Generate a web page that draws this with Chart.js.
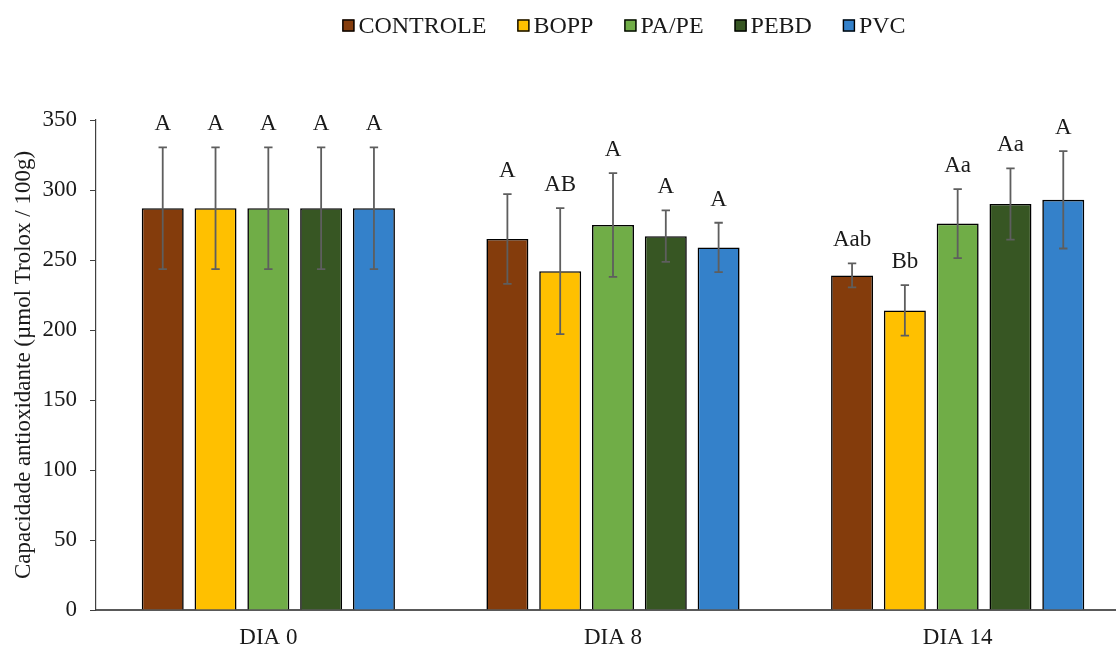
<!DOCTYPE html>
<html>
<head>
<meta charset="utf-8">
<script src="https://cdn.jsdelivr.net/npm/chart.js@4/dist/chart.umd.min.js"></script>
<style>
  html, body { margin: 0; padding: 0; background: #fff; overflow: hidden; }
  #wrap { width: 1116px; height: 648px; overflow: hidden; }
  canvas { display: block; }
</style>
</head>
<body>
<div id="wrap"><canvas id="c" width="1130" height="648"></canvas></div>
<script>
// ---- data ----
const categories = ['DIA 0', 'DIA 8', 'DIA 14'];
const seriesNames = ['CONTROLE', 'BOPP', 'PA/PE', 'PEBD', 'PVC'];
const seriesColors = ['#843C0C', '#FFC000', '#70AD47', '#375623', '#3481CA'];

const controleValues = [287, 265, 239];
const boppValues     = [287, 242, 214];
const papeValues     = [287, 275, 276];
const pebdValues     = [287, 267, 290];
const pvcValues      = [287, 259, 293];

const controleErrors = [43.5, 32, 8.6];
const boppErrors     = [43.5, 45, 18];
const papeErrors     = [43.5, 37, 24.6];
const pebdErrors     = [43.5, 18.4, 25.5];
const pvcErrors      = [43.5, 17.6, 34.8];

const controleLetters = ['A', 'A', 'Aab'];
const boppLetters     = ['A', 'AB', 'Bb'];
const papeLetters     = ['A', 'A', 'Aa'];
const pebdLetters     = ['A', 'A', 'Aa'];
const pvcLetters      = ['A', 'A', 'A'];

const yTicks = [0, 50, 100, 150, 200, 250, 300, 350];
const yTitle = 'Capacidade antioxidante (µmol Trolox / 100g)';

const allValues  = [controleValues, boppValues, papeValues, pebdValues, pvcValues];
const allErrors  = [controleErrors, boppErrors, papeErrors, pebdErrors, pvcErrors];
const allLetters = [controleLetters, boppLetters, papeLetters, pebdLetters, pvcLetters];

const FONT = "'Liberation Serif', 'Times New Roman', serif";
const TEXT = '#1a1a1a';

const datasets = seriesNames.map((name, i) => ({
  label: name,
  data: allValues[i],
  errors: allErrors[i],
  letters: allLetters[i],
  backgroundColor: seriesColors[i],
  borderColor: '#000',
  borderWidth: 1.6,
  borderSkipped: 'start',
  categoryPercentage: 0.766,
  barPercentage: 0.795
}));

const errorBarPlugin = {
  id: 'errorBars',
  afterDatasetsDraw(chart) {
    const ctx = chart.ctx;
    const ys = chart.scales.y;
    chart.data.datasets.forEach((ds, di) => {
      const meta = chart.getDatasetMeta(di);
      meta.data.forEach((bar, j) => {
        const v = ds.data[j], e = ds.errors[j];
        const yTop = ys.getPixelForValue(v + e);
        const yBot = ys.getPixelForValue(v - e);
        const x = bar.x;
        ctx.save();
        ctx.strokeStyle = '#5e5e5e';
        ctx.lineWidth = 1.8;
        ctx.beginPath();
        ctx.moveTo(x, yTop); ctx.lineTo(x, yBot);
        ctx.moveTo(x - 4.2, yTop); ctx.lineTo(x + 4.2, yTop);
        ctx.moveTo(x - 4.2, yBot); ctx.lineTo(x + 4.2, yBot);
        ctx.stroke();
        ctx.fillStyle = TEXT;
        ctx.font = '23px ' + FONT;
        ctx.textAlign = 'center';
        ctx.textBaseline = 'middle';
        ctx.fillText(ds.letters[j], x, yTop - 23);
        ctx.restore();
      });
    });
  }
};

const legendPlugin = {
  id: 'customLegend',
  afterDraw(chart) {
    const ctx = chart.ctx;
    ctx.save();
    ctx.font = '24px ' + FONT;
    const box = 12, gapText = 4, gapItem = 31;
    const widths = chart.data.datasets.map(ds => ctx.measureText(ds.label).width);
    const total = widths.reduce((a, w) => a + box + gapText + w, 0) + gapItem * (widths.length - 1);
    let x = 624 - total / 2;
    const yc = 25.5;
    chart.data.datasets.forEach((ds, i) => {
      ctx.fillStyle = ds.backgroundColor;
      ctx.fillRect(x, yc - 6, box, box);
      ctx.strokeStyle = '#000';
      ctx.lineWidth = 1.4;
      ctx.strokeRect(x + 0.5, yc - 5.5, box - 1, box - 1);
      ctx.fillStyle = TEXT;
      ctx.textAlign = 'left';
      ctx.textBaseline = 'middle';
      ctx.fillText(ds.label, x + box + gapText, yc + 1);
      x += box + gapText + widths[i] + gapItem;
    });
    ctx.restore();
  }
};

new Chart(document.getElementById('c'), {
  type: 'bar',
  data: { labels: categories, datasets },
  options: {
    responsive: false,
    animation: false,
    devicePixelRatio: 1,
    layout: { padding: { top: 120, right: 0, bottom: 0, left: 0 } },
    plugins: {
      legend: { display: false },
      tooltip: { enabled: false }
    },
    scales: {
      x: {
        grid: { display: false, drawTicks: false },
        border: { display: true, color: '#595959', width: 2 },
        ticks: { color: TEXT, font: { family: FONT, size: 23 }, padding: 14 },
        afterFit(scale) { scale.height = 38; }
      },
      y: {
        min: 0,
        max: 350,
        afterBuildTicks(scale) { scale.ticks = yTicks.map(v => ({ value: v })); },
        grid: { drawOnChartArea: false, drawTicks: true, tickLength: 6, tickColor: '#404040', tickWidth: 1 },
        border: { display: true, color: '#404040', width: 1.2 },
        ticks: { color: TEXT, font: { family: FONT, size: 23 }, padding: 13 },
        title: { display: true, text: yTitle, color: TEXT, font: { family: FONT, size: 23 }, padding: { top: 10, bottom: 0 } },
        afterFit(scale) { scale.width = 96; }
      }
    }
  },
  plugins: [errorBarPlugin, legendPlugin]
});
</script>
</body>
</html>
